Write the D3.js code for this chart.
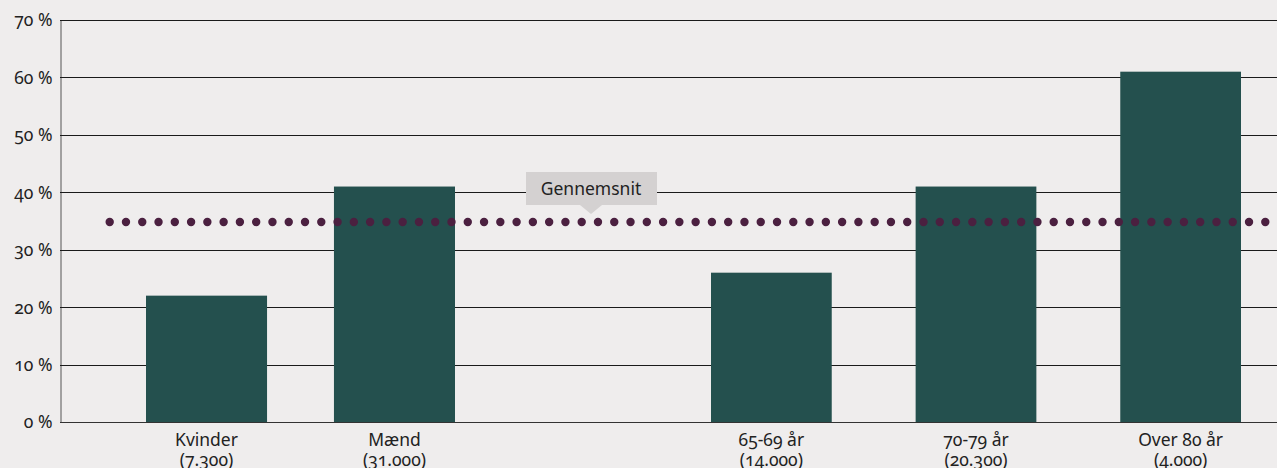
<!DOCTYPE html>
<html><head><meta charset="utf-8">
<script src="https://cdn.jsdelivr.net/npm/d3@7"></script>
<style>
html,body{margin:0;padding:0;background:#efeded;}
svg{display:block;font-family:"Noto Sans",sans-serif;}
svg text{font-variant-numeric:oldstyle-nums;font-feature-settings:"onum" 1;}
</style></head><body>
<svg id="c" width="1277" height="468"></svg>
<script>
const genderCats = ["Kvinder", "Mænd"];
const genderCounts = ["(7.300)", "(31.000)"];
const genderValues = [22, 41];
const ageCats = ["65-69 år", "70-79 år", "Over 80 år"];
const ageCounts = ["(14.000)", "(20.300)", "(4.000)"];
const ageValues = [26, 41, 61];
const averageValue = 35;
const averageLabel = "Gennemsnit";
const yTicks = [0, 10, 20, 30, 40, 50, 60, 70];

(function () {
const svg = d3.select("#c");
const W = 1277, mLeft = 60, mTop = 20, mBottom = 422;
const FS = 17.5;
const y = d3.scaleLinear().domain([0, 70]).range([mBottom, mTop]);
const xG = d3.scaleBand().domain(genderCats).range([146, 455]).paddingInner(0.356).paddingOuter(0);
const xA = d3.scaleBand().domain(ageCats).range([711, 1241]).paddingInner(0.41).paddingOuter(0);

const yAxis = d3.axisLeft(y).tickValues(yTicks).tickSize(0).tickPadding(8).tickFormat(d => d + " %");
const gy = svg.append("g").attr("transform", `translate(${mLeft + 0.5},0)`).call(yAxis);
gy.attr("font-family", null);
gy.select(".domain").attr("stroke", "#555").attr("stroke-width", 1);
gy.selectAll("text").attr("font-size", FS).attr("fill", "#222").attr("dy", "0.34em");
svg.append("g").selectAll("line").data(yTicks.filter(d => d > 0)).join("line")
  .attr("x1", mLeft).attr("x2", W).attr("y1", d => Math.round(y(d)) + 0.5).attr("y2", d => Math.round(y(d)) + 0.5)
  .attr("stroke", "#1a1a1a").attr("stroke-width", 1);

const barColor = "#24504e";
function drawGroup(scale, cats, vals, counts) {
  const data = cats.map((c, i) => ({c, v: vals[i], n: counts[i]}));
  svg.append("g").selectAll("rect").data(data).join("rect")
    .attr("x", d => scale(d.c)).attr("width", scale.bandwidth())
    .attr("y", d => y(d.v)).attr("height", d => y(0) - y(d.v))
    .attr("fill", barColor);
  const lab = svg.append("g").selectAll("text").data(data).join("text")
    .attr("x", d => scale(d.c) + scale.bandwidth() / 2)
    .attr("text-anchor", "middle").attr("font-size", FS).attr("fill", "#222");
  lab.append("tspan").attr("x", d => scale(d.c) + scale.bandwidth() / 2).attr("y", 446).text(d => d.c);
  lab.append("tspan").attr("x", d => scale(d.c) + scale.bandwidth() / 2).attr("y", 466).text(d => d.n);
}
drawGroup(xG, genderCats, genderValues, genderCounts);
drawGroup(xA, ageCats, ageValues, ageCounts);

svg.append("line").attr("x1", mLeft).attr("x2", W).attr("y1", y(0) + 0.5).attr("y2", y(0) + 0.5)
  .attr("stroke", "#333").attr("stroke-width", 1.2);

const x1 = 109.7, x2 = 1265.3, nDots = 72;
svg.append("line").attr("x1", x1).attr("x2", x2).attr("y1", y(averageValue) + 1).attr("y2", y(averageValue) + 1)
  .attr("stroke", "#4b2040").attr("stroke-width", 8.4).attr("stroke-linecap", "round")
  .attr("stroke-dasharray", `0 ${(x2 - x1) / (nDots - 1)}`);

const cx = 591, by = 205;
const g = svg.append("g");
g.append("rect").attr("x", 526).attr("y", 172).attr("width", 131).attr("height", by - 172).attr("fill", "#d4d1d1");
g.append("path").attr("d", `M${cx - 11},${by} L${cx},${by + 9} L${cx + 11},${by} Z`).attr("fill", "#d4d1d1");
g.append("text").attr("x", cx).attr("y", 195).attr("text-anchor", "middle").attr("font-size", FS).attr("fill", "#222").text(averageLabel);
})();
</script></body></html>
